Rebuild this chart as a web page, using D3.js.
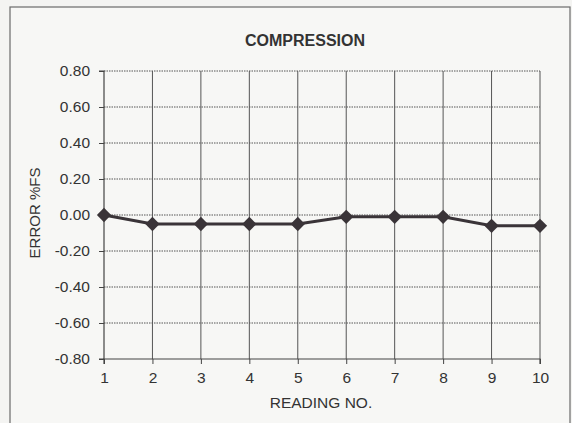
<!DOCTYPE html>
<html lang="en">
<head>
<meta charset="UTF-8">
<title>Compression</title>
<style>
  body { margin: 0; background: #f4f4f2; }
  svg { display: block; font-family: "Liberation Sans", Arial, sans-serif; }
</style>
</head>
<body>
<svg width="572" height="423"></svg>
<script src="https://cdn.jsdelivr.net/npm/d3@7"></script>
<script>
// readings and error values
const readings = [1, 2, 3, 4, 5, 6, 7, 8, 9, 10];
const errors = [0.00, -0.05, -0.05, -0.05, -0.05, -0.01, -0.01, -0.01, -0.06, -0.06];
const yTicks = [0.8, 0.6, 0.4, 0.2, 0, -0.2, -0.4, -0.6, -0.8];

const svg = d3.select('svg');
const ink = '#3a3438';

// outer frame of the chart
svg.append('rect')
  .attr('x', 10).attr('y', 7)
  .attr('width', 560).attr('height', 430)
  .attr('fill', '#f7f7f5')
  .attr('stroke', '#6a6a6a')
  .attr('stroke-width', 1.2);

const plotL = 104, plotR = 540, plotT = 71, plotB = 359;

const x = d3.scaleLinear().domain([1, 10]).range([plotL, plotR]);
const y = d3.scaleLinear().domain([-0.8, 0.8]).range([plotB, plotT]);

// horizontal dotted gridlines
svg.append('g')
  .selectAll('line')
  .data(yTicks.filter(t => t > -0.8))
  .join('line')
  .attr('x1', plotL).attr('x2', plotR)
  .attr('y1', d => y(d)).attr('y2', d => y(d))
  .attr('stroke', '#555')
  .attr('stroke-width', 1)
  .attr('stroke-dasharray', '1.5,1');

// vertical gridlines
svg.append('g')
  .selectAll('line')
  .data(readings.slice(1))
  .join('line')
  .attr('x1', d => x(d)).attr('x2', d => x(d))
  .attr('y1', plotT).attr('y2', plotB)
  .attr('stroke', '#555')
  .attr('stroke-width', 1);

// axes
const fmt = d => d3.format('.2f')(d).replace('\u2212', '-');
const yAxis = svg.append('g')
  .attr('transform', `translate(${plotL},0)`)
  .call(d3.axisLeft(y).tickValues(yTicks).tickFormat(fmt).tickSize(5).tickPadding(9));

const xAxis = svg.append('g')
  .attr('transform', `translate(0,${plotB})`)
  .call(d3.axisBottom(x).tickValues(readings).tickSize(5).tickPadding(8));

[yAxis, xAxis].forEach(a => {
  a.select('.domain').attr('stroke', '#444').attr('stroke-width', 1.2);
  a.selectAll('.tick line').attr('stroke', '#444');
  a.selectAll('text')
    .attr('fill', '#333')
    .style('font-size', '15.5px')
    .style('font-family', '"Liberation Sans", Arial, sans-serif');
});
yAxis.select('.domain').attr('d', `M-5,${plotT}H0V${plotB}H-5`);
xAxis.select('.domain').attr('d', `M${plotL},5V0H${plotR}V5`);

// series line
svg.append('path')
  .datum(readings.map((r, i) => [r, errors[i]]))
  .attr('fill', 'none')
  .attr('stroke', ink)
  .attr('stroke-width', 3)
  .attr('d', d3.line().x(d => x(d[0])).y(d => y(d[1])));

// diamond markers
svg.append('g')
  .selectAll('path')
  .data(readings.map((r, i) => [r, errors[i]]))
  .join('path')
  .attr('transform', d => `translate(${x(d[0])},${y(d[1])})`)
  .attr('d', d3.symbol().type(d3.symbolDiamond2).size(130))
  .attr('fill', ink);

// titles
svg.append('text')
  .attr('x', 305).attr('y', 46)
  .attr('text-anchor', 'middle')
  .attr('font-weight', 'bold')
  .attr('font-size', 16)
  .attr('fill', '#333')
  .text('COMPRESSION');

svg.append('text')
  .attr('x', 321).attr('y', 408)
  .attr('text-anchor', 'middle')
  .attr('font-size', 15.5)
  .attr('fill', '#333')
  .text('READING NO.');

svg.append('text')
  .attr('transform', 'translate(40,213) rotate(-90)')
  .attr('text-anchor', 'middle')
  .attr('font-size', 15)
  .attr('fill', '#333')
  .text('ERROR %FS');
</script>
</body>
</html>
